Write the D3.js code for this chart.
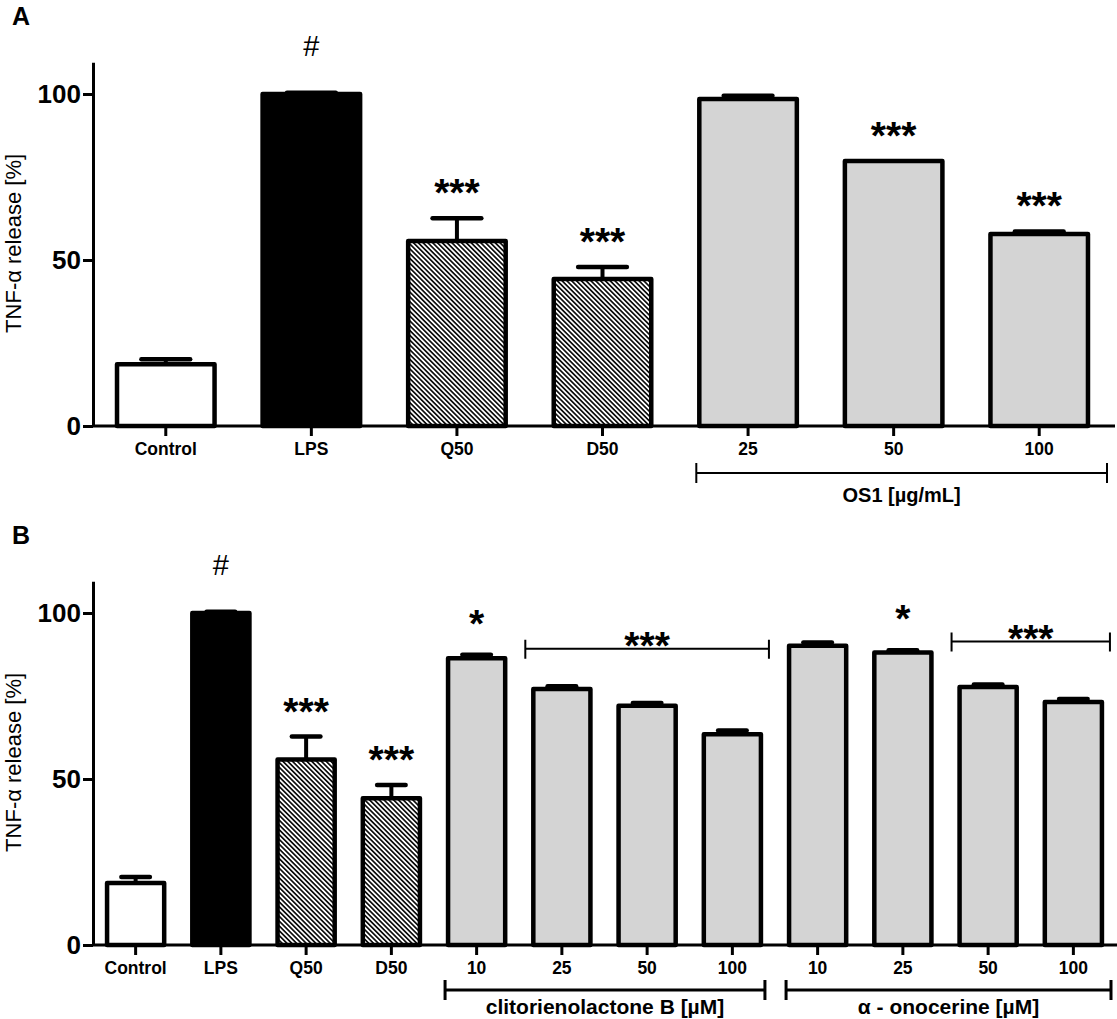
<!DOCTYPE html>
<html>
<head>
<meta charset="utf-8">
<script src="https://cdn.jsdelivr.net/npm/d3@7"></script>
<style>
  body { margin: 0; background: #fff; }
  text { font-family: "Liberation Sans", Arial, sans-serif; fill: #000; }
</style>
</head>
<body>
<script>
// ---- Datos panel A ----
var etiquetasA = ["Control", "LPS", "Q50", "D50", "25", "50", "100"];
var mediasA = [18.6, 100, 55.7, 44.3, 98.5, 79.8, 57.8];
var erroresA = [1.5, 0.4, 6.9, 3.6, 1.0, 0, 0.8];
var rellenosA = ["blanco", "negro", "rayado", "rayado", "gris", "gris", "gris"];
var marcasA = ["", "#", "***", "***", "", "***", "***"];
var gruposA = [{desde: 4, hasta: 6, texto: "OS1  [µg/mL]"}];
var llavesA = [];

// ---- Datos panel B ----
var etiquetasB = ["Control", "LPS", "Q50", "D50", "10", "25", "50", "100", "10", "25", "50", "100"];
var mediasB = [18.7, 100, 55.9, 44.2, 86.4, 77.1, 72.1, 63.5, 90.1, 88.1, 77.7, 73.2];
var erroresB = [1.8, 0.4, 6.9, 4.0, 1.0, 0.8, 0.8, 1.1, 1.0, 0.7, 0.8, 0.9];
var rellenosB = ["blanco", "negro", "rayado", "rayado", "gris", "gris", "gris", "gris", "gris", "gris", "gris", "gris"];
var marcasB = ["", "#", "***", "***", "*", "", "", "", "", "*", "", ""];
var gruposB = [
    {desde: 4, hasta: 7, texto: "clitorienolactone B [µM]"},
    {desde: 8, hasta: 11, texto: "α - onocerine [µM]"}
];
var llavesB = [
    {desde: 5, hasta: 7, nivel: 89.2, texto: "***"},
    {desde: 10, hasta: 11, nivel: 91.4, texto: "***"}
];

var ticksY = [0, 50, 100];
var maxY = 109.6;
var tituloY = "TNF-α release [%]";

var width = 1117;
var height = 1019;

var svg = d3.select("body")
    .append("svg")
    .attr("width", width)
    .attr("height", height);

// patrón rayado diagonal
var defs = svg.append("defs");
var patron = defs.append("pattern")
    .attr("id", "rayado")
    .attr("patternUnits", "userSpaceOnUse")
    .attr("width", 3.4)
    .attr("height", 3.4)
    .attr("patternTransform", "rotate(-45)");
patron.append("rect").attr("width", 3.4).attr("height", 3.4).attr("fill", "#fff");
patron.append("line")
    .attr("x1", 1.7).attr("y1", -1).attr("x2", 1.7).attr("y2", 5)
    .attr("stroke", "#000").attr("stroke-width", 1.6);

var colores = {blanco: "#ffffff", negro: "#000000", rayado: "url(#rayado)", gris: "#d4d4d4"};

function dibujarPanel(p) {
    var g = svg.append("g");
    var n = p.etiquetas.length;

    var x = d3.scaleBand()
        .domain(d3.range(n))
        .range([93, p.finX])
        .paddingInner(0.33)
        .paddingOuter(0.165);

    var y = d3.scaleLinear()
        .domain([0, maxY])
        .range([p.ceroY, p.ceroY - maxY * 3.32]);

    var bw = x.bandwidth();

    // barras
    g.selectAll("rect.barra")
        .data(d3.range(n))
        .join("rect")
        .attr("class", "barra")
        .attr("x", i => x(i))
        .attr("y", i => y(p.medias[i]))
        .attr("width", bw)
        .attr("height", i => y(0) - y(p.medias[i]))
        .attr("fill", i => colores[p.rellenos[i]])
        .attr("stroke", "#000")
        .attr("stroke-width", 4.5)
        .attr("stroke-linejoin", "round");

    // barras de error (solo hacia arriba)
    var conError = d3.range(n).filter(i => p.errores[i] > 0);
    g.selectAll("line.error")
        .data(conError)
        .join("line")
        .attr("class", "error")
        .attr("x1", i => x(i) + bw / 2)
        .attr("x2", i => x(i) + bw / 2)
        .attr("y1", i => y(p.medias[i]))
        .attr("y2", i => y(p.medias[i] + p.errores[i]))
        .attr("stroke", "#000")
        .attr("stroke-width", 4);
    g.selectAll("line.tapa")
        .data(conError)
        .join("line")
        .attr("class", "tapa")
        .attr("x1", i => x(i) + bw / 4)
        .attr("x2", i => x(i) + bw * 3 / 4)
        .attr("y1", i => y(p.medias[i] + p.errores[i]))
        .attr("y2", i => y(p.medias[i] + p.errores[i]))
        .attr("stroke", "#000")
        .attr("stroke-width", 4.5)
        .attr("stroke-linecap", "round");

    // marcas de significancia
    g.selectAll("text.marca")
        .data(d3.range(n).filter(i => p.marcas[i] !== ""))
        .join("text")
        .attr("class", "marca")
        .attr("x", i => x(i) + bw / 2)
        .attr("y", function (i) {
            var tope = y(p.medias[i] + p.errores[i]);
            var m = p.marcas[i];
            if (m === "#") return tope - 47 + 10;
            if (m === "*") return tope - 40 + 22;
            return tope - 34 + 22;
        })
        .attr("text-anchor", "middle")
        .style("font-size", i => p.marcas[i] === "#" ? "29px" : "39px")
        .style("font-weight", i => p.marcas[i] === "#" ? "normal" : "bold")
        .text(i => p.marcas[i]);

    // llaves superiores
    p.llaves.forEach(function (l) {
        var x1 = x(l.desde) - 8;
        var x2 = Math.min(x(l.hasta) + bw + 8, p.finX - 4);
        var yl = y(l.nivel);
        g.append("path")
            .attr("d", "M" + x1 + "," + (yl - 9) + "V" + (yl + 10) + "M" + x1 + "," + yl + "H" + x2 +
                "M" + x2 + "," + (yl - 9) + "V" + (yl + 10))
            .attr("fill", "none")
            .attr("stroke", "#000")
            .attr("stroke-width", 2);
        g.append("text")
            .attr("x", (x1 + x2) / 2)
            .attr("y", yl - 12 + 22)
            .attr("text-anchor", "middle")
            .style("font-size", "39px")
            .style("font-weight", "bold")
            .text(l.texto);
    });

    // eje X
    var ejeX = d3.axisBottom(x)
        .tickSize(10)
        .tickSizeOuter(0)
        .tickPadding(7)
        .tickFormat(i => p.etiquetas[i]);
    var gx = g.append("g")
        .attr("transform", "translate(0," + y(0) + ")")
        .call(ejeX);
    gx.select(".domain").attr("stroke-width", 3).attr("d", "M93,0H" + (p.finX + 3));
    gx.selectAll(".tick line").attr("stroke-width", 3);
    gx.selectAll(".tick text")
        .style("font-size", "17.5px")
        .style("font-weight", "bold")
        .style("font-family", "'Liberation Sans', Arial, sans-serif");

    // eje Y
    var ejeY = d3.axisLeft(y)
        .tickValues(ticksY)
        .tickSize(10)
        .tickSizeOuter(0)
        .tickPadding(2);
    var gy = g.append("g")
        .attr("transform", "translate(93,0)")
        .call(ejeY);
    gy.select(".domain").attr("stroke-width", 3);
    gy.selectAll(".tick line").attr("stroke-width", 3);
    gy.selectAll(".tick text")
        .style("font-size", "26px")
        .style("font-weight", "bold")
        .style("font-family", "'Liberation Sans', Arial, sans-serif");

    // título eje Y
    g.append("text")
        .attr("transform", "translate(21," + y(55) + ") rotate(-90)")
        .attr("text-anchor", "middle")
        .style("font-size", "22px")
        .text(tituloY);

    // letra del panel
    g.append("text")
        .attr("x", 12)
        .attr("y", p.ceroY - 401)
        .style("font-size", "25px")
        .style("font-weight", "bold")
        .text(p.letra);

    // llaves inferiores de grupos
    p.grupos.forEach(function (gr) {
        var x1 = x(gr.desde) - 3;
        var x2 = gr.hasta === n - 1 ? p.finX - 5 : x(gr.hasta) + bw + 4;
        var yl = y(0) + p.bajaLlave;
        g.append("path")
            .attr("d", "M" + x1 + "," + (yl - 10) + "V" + (yl + 10) + "M" + x1 + "," + yl + "H" + x2 +
                "M" + x2 + "," + (yl - 10) + "V" + (yl + 10))
            .attr("fill", "none")
            .attr("stroke", "#000")
            .attr("stroke-width", p.grosorLlave);
        g.append("text")
            .attr("x", (x1 + x2) / 2)
            .attr("y", y(0) + p.bajaTexto)
            .attr("dy", "0.35em")
            .attr("text-anchor", "middle")
            .style("font-size", p.tamTexto)
            .style("font-weight", "bold")
            .text(gr.texto);
    });
}

dibujarPanel({
    letra: "A", etiquetas: etiquetasA, medias: mediasA, errores: erroresA,
    rellenos: rellenosA, marcas: marcasA, grupos: gruposA, llaves: llavesA,
    ceroY: 426, finX: 1112, bajaLlave: 47, bajaTexto: 69, grosorLlave: 2, tamTexto: "20px"
});

dibujarPanel({
    letra: "B", etiquetas: etiquetasB, medias: mediasB, errores: erroresB,
    rellenos: rellenosB, marcas: marcasB, grupos: gruposB, llaves: llavesB,
    ceroY: 945, finX: 1116, bajaLlave: 45, bajaTexto: 62, grosorLlave: 3, tamTexto: "21px"
});
</script>
</body>
</html>
